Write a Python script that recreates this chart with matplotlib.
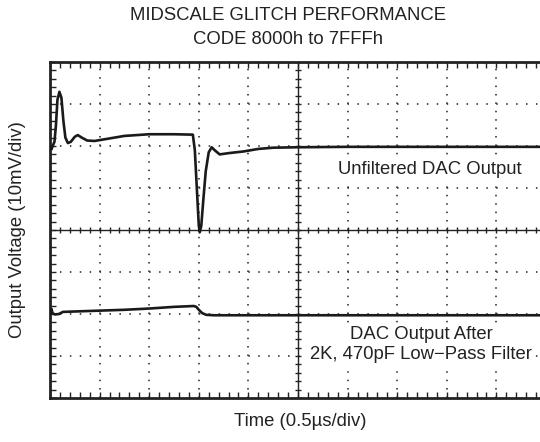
import numpy as np
import matplotlib
matplotlib.use("Agg")
import matplotlib.pyplot as plt

plt.rcParams['font.family'] = ['Liberation Sans', 'DejaVu Sans']
plt.rcParams['lines.scale_dashes'] = False

# Trace data (x in divisions of 0.5us, y in divisions of 10mV)
unf_x = [0.00, 0.03, 0.06, 0.09, 0.12, 0.15, 0.19, 0.23, 0.27, 0.31, 0.36, 0.42, 0.50, 0.56,
         0.64, 0.75, 0.90, 1.10, 1.50, 2.00, 2.50, 2.88, 2.92, 2.96, 3.00, 3.02, 3.05, 3.09,
         3.14, 3.20, 3.26, 3.32, 3.42, 3.60, 3.90, 4.20, 4.50, 5.00, 6.00, 8.00, 10.00]
unf_y = [5.95, 5.92, 6.02, 6.10, 6.50, 7.10, 7.29, 7.15, 6.60, 6.20, 6.07, 6.10, 6.22, 6.26,
         6.20, 6.13, 6.12, 6.16, 6.24, 6.28, 6.28, 6.27, 5.90, 5.00, 4.10, 3.95, 4.10, 4.70,
         5.40, 5.85, 5.97, 5.90, 5.80, 5.83, 5.87, 5.93, 5.96, 5.97, 5.98, 5.98, 5.98]

filt_x = [0.00, 0.02, 0.03, 0.05, 0.10, 0.18, 0.26, 0.50, 1.00, 1.50, 2.00, 2.50, 2.90,
          2.95, 3.00, 3.07, 3.15, 3.30, 5.00, 10.00]
filt_y = [2.00, 2.02, 2.12, 2.02, 1.99, 2.00, 2.05, 2.06, 2.08, 2.10, 2.13, 2.17, 2.19,
          2.17, 2.10, 2.02, 1.98, 1.97, 1.97, 1.97]

n_xdiv = 10
n_ydiv = 8

W, H = 540, 442
fig = plt.figure(figsize=(W / 100, H / 100), dpi=100)
ax = fig.add_axes([50 / W, 1 - 398 / H, 496 / W, 336 / H])
ax.set_xlim(0, n_xdiv)
ax.set_ylim(0, n_ydiv)

grid_col = '#333333'
# dotted graticule, one dot per minor division
for gx in range(1, n_xdiv):
    if gx != 5:
        ax.axvline(gx, color=grid_col, lw=1.2, dashes=(1.1, 6.05 - 1.1), zorder=1)
for gy in range(1, n_ydiv):
    if gy != 4:
        ax.axhline(gy, color=grid_col, lw=1.2, dashes=(1.1, 7.14 - 1.1), zorder=1)

# centre axes with ticks
ax.axhline(4, color='#222222', lw=1.0, zorder=2)
ax.axvline(5, color='#222222', lw=1.0, zorder=2)
minor_x = np.arange(0, n_xdiv + 0.01, 0.2)
minor_y = np.arange(0, n_ydiv + 0.01, 0.2)
ax.plot(minor_x, np.full_like(minor_x, 4), ls='none', marker='|', ms=5, mew=1.0,
        color='#222222', zorder=2)
ax.plot(np.full_like(minor_y, 5), minor_y, ls='none', marker='_', ms=5, mew=1.0,
        color='#222222', zorder=2)

# traces
ax.plot(unf_x, unf_y, color='#1a1a1a', lw=1.9, solid_joinstyle='round', zorder=4)
ax.plot(filt_x, filt_y, color='#1a1a1a', lw=1.9, solid_joinstyle='round', zorder=4)

# border ticks
ax.set_xticks(minor_x)
ax.set_yticks(minor_y)
ax.tick_params(axis='both', direction='in', length=4, width=1.0, color='#222222',
               top=True, right=True, labelbottom=False, labelleft=False)
for s in ax.spines.values():
    s.set_linewidth(2.0)
    s.set_color('#222222')

txt = '#222222'
fs = 13.3
box = dict(facecolor='white', edgecolor='none', pad=2)
ax.text(7.66, 5.43, 'Unfiltered DAC Output', ha='center', va='center', fontsize=fs, color=txt,
        zorder=5, bbox=box)
ax.text(7.48, 1.265, 'DAC Output After\n2K, 470pF Low\u2212Pass Filter', ha='center',
        va='center', multialignment='center', linespacing=1.25, fontsize=fs, color=txt,
        zorder=5, bbox=box)

fig.text(288 / W, 1 - 15 / H, 'MIDSCALE GLITCH PERFORMANCE', ha='center', va='center',
         fontsize=fs, color=txt)
fig.text(288 / W, 1 - 39 / H, 'CODE 8000h to 7FFFh', ha='center', va='center',
         fontsize=fs, color=txt)
fig.text(18 / W, 1 - 230 / H, 'Output Voltage (10mV/div)', ha='center', va='center',
         rotation=90, fontsize=fs, color=txt)
fig.text(300 / W, 1 - 422 / H, 'Time (0.5\u00b5s/div)', ha='center', va='center',
         fontsize=fs, color=txt)

fig.savefig('out.png', dpi=100)
